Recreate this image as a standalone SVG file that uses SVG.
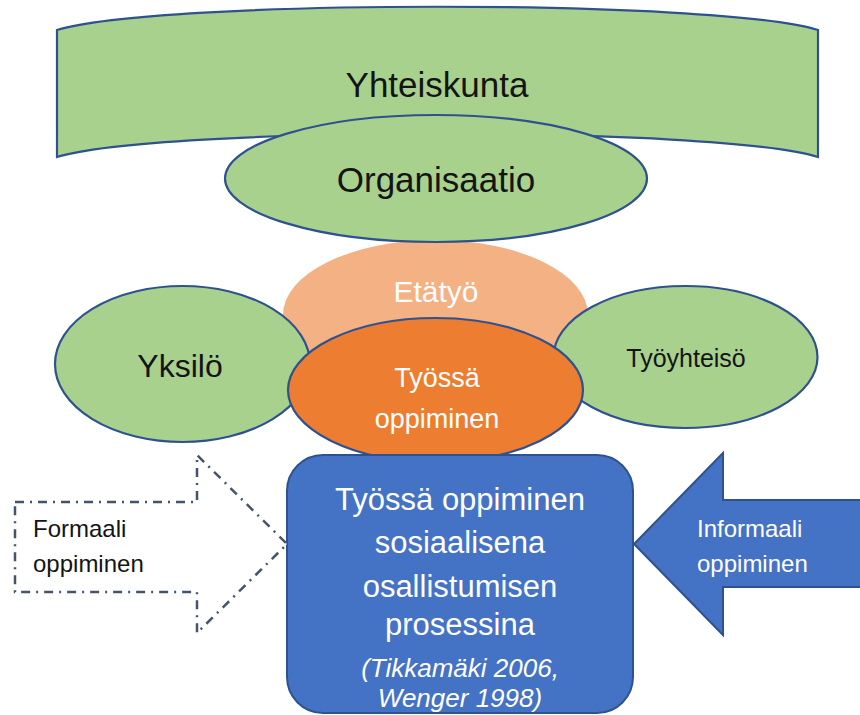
<svg xmlns="http://www.w3.org/2000/svg" width="860" height="715" viewBox="0 0 860 715">
<style>
.g{fill:#A9D18E;stroke:#2F528F;stroke-width:2.2}
.t{font-family:"Liberation Sans",Arial,sans-serif;text-anchor:middle}
.s{font-family:"Liberation Sans",Arial,sans-serif}
.dk{fill:#141414}
.wh{fill:#FFFFFF}
</style>
<rect width="860" height="715" fill="#FFFFFF"/>
<g id="yhteiskunta">
<path class="g" d="M57,30 C157,-1 718,-1 818,30 L818,157 C718,126 157,126 57,157 Z"/>
<text class="t dk" x="437" y="97" font-size="35">Yhteiskunta</text>
</g>
<g id="etatyo">
<ellipse cx="435.5" cy="315" rx="152.5" ry="75" fill="#F4B183"/>
<text class="t wh" x="436" y="302" font-size="30">Etätyö</text>
</g>
<g id="organisaatio">
<ellipse class="g" cx="436" cy="178.5" rx="211" ry="63.5"/>
<text class="t dk" x="436" y="192" font-size="35">Organisaatio</text>
</g>
<g id="yksilo">
<ellipse class="g" cx="182.5" cy="364" rx="127.5" ry="78"/>
<text class="t dk" x="180" y="377" font-size="32">Yksilö</text>
</g>
<g id="tyoyhteiso">
<ellipse class="g" cx="685.5" cy="357" rx="132" ry="71"/>
<text class="t dk" x="686" y="367" font-size="25">Työyhteisö</text>
</g>
<g id="tyossa-oppiminen">
<ellipse cx="435.5" cy="390" rx="147.5" ry="72" fill="#ED7D31" stroke="#2F528F" stroke-width="2.2"/>
<text class="t wh" x="437" y="387" font-size="27">Työssä</text>
<text class="t wh" x="437" y="428" font-size="27">oppiminen</text>
</g>
<g id="prosessi">
<rect x="287" y="455" width="346" height="258" rx="36" fill="#4472C4" stroke="#2F528F" stroke-width="2"/>
<text class="t wh" x="460" y="510" font-size="31">Työssä oppiminen</text>
<text class="t wh" x="460" y="553" font-size="31">sosiaalisena</text>
<text class="t wh" x="460" y="597" font-size="31">osallistumisen</text>
<text class="t wh" x="460" y="635" font-size="31">prosessina</text>
<text class="t wh" x="460" y="677" font-size="26" font-style="italic">(Tikkamäki 2006,</text>
<text class="t wh" x="460" y="707" font-size="26" font-style="italic">Wenger 1998)</text>
</g>
<g id="connectors">
<g id="formaali">
<path d="M15,502 L197,502 L197,455 L287,544 L197,633 L197,592 L15,592 Z" fill="#FFFFFF" stroke="#44546A" stroke-width="2.5" stroke-dasharray="9 6 2 6"/>
<text class="s dk" x="33" y="537" font-size="24">Formaali</text>
<text class="s dk" x="33" y="572" font-size="24">oppiminen</text>
</g>
<g id="informaali">
<path d="M862,500 L723,500 L723,453 L634,544 L723,635 L723,587 L862,587 Z" fill="#4472C4" stroke="#2F528F" stroke-width="2"/>
<text class="s wh" x="697" y="537" font-size="24">Informaali</text>
<text class="s wh" x="697" y="572" font-size="24">oppiminen</text>
</g>
</g>
</svg>
